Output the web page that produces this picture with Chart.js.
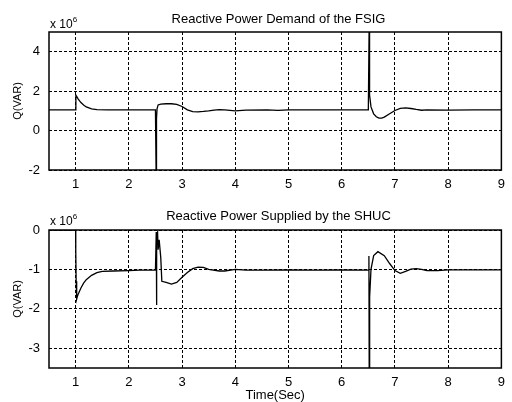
<!DOCTYPE html>
<html>
<head>
<meta charset="utf-8">
<script src="https://cdn.jsdelivr.net/npm/chart.js@4.4.0/dist/chart.umd.min.js"></script>
<style>
html, body { margin: 0; padding: 0; background: #fff; }
#wrap { position: relative; width: 512px; height: 402px; overflow: hidden; }
canvas { position: absolute; left: 0; }
.exp { position: absolute; font: 12px "Liberation Sans", Arial, sans-serif; color: #000; line-height: 12px; }
.exp sup { font-size: 8px; vertical-align: 6px; }
.ttl { position: absolute; left: 49px; width: 459px; text-align: center;
  font: 13px "Liberation Sans", Arial, sans-serif; color: #000; line-height: 13px; }
</style>
</head>
<body>
<div id="wrap">
  <canvas id="fsig" width="512" height="200" style="top:0"></canvas>
  <canvas id="shuc" width="512" height="202" style="top:200px"></canvas>
  <div class="ttl" style="top:12px">Reactive Power Demand of the FSIG</div>
  <div class="ttl" style="top:209px">Reactive Power Supplied by the SHUC</div>
  <div class="exp" style="left:50px;top:14px">x 10<sup>6</sup></div>
  <div class="exp" style="left:50px;top:211px">x 10<sup>6</sup></div>
</div>
<script>
// time axis (s) and reactive power (x 10^6 VAR)
const xTicks = [1, 2, 3, 4, 5, 6, 7, 8, 9];
const fsigTicks = [-2, 0, 2, 4];
const shucTicks = [-3, -2, -1, 0];

const fsigTime = [0.5, 1.0, 1.005, 1.05, 1.1, 1.15, 1.2, 1.3, 1.4, 1.6, 2.0, 2.5, 2.512,
  2.516, 2.52, 2.524, 2.53, 2.55, 2.6, 2.7, 2.8, 2.9, 3.0, 3.1, 3.2, 3.3, 3.4, 3.5, 3.6,
  3.7, 3.8, 4.0, 4.2, 4.6, 4.8, 5.0, 5.5, 6.0, 6.5, 6.51, 6.514, 6.518, 6.522, 6.53, 6.55,
  6.6, 6.65, 6.7, 6.75, 6.8, 6.9, 7.0, 7.1, 7.2, 7.3, 7.4, 7.5, 7.6, 8.0, 8.5, 9.0];
const fsigQ = [1.05, 1.05, 1.8, 1.6, 1.42, 1.3, 1.2, 1.1, 1.06, 1.05, 1.05, 1.05, -2.0,
  -0.9, -1.2, 0.6, 1.1, 1.3, 1.34, 1.36, 1.36, 1.33, 1.22, 1.05, 0.96, 0.95, 0.97, 1.0, 1.04,
  1.06, 1.05, 1.0, 1.04, 1.05, 1.02, 1.05, 1.05, 1.05, 1.05, 1.05, 5.0, 3.0, 5.0, 1.8, 1.2,
  0.85, 0.7, 0.63, 0.63, 0.68, 0.85, 1.02, 1.13, 1.15, 1.12, 1.07, 1.03, 1.05, 1.04, 1.05, 1.05];

const shucTime = [0.5, 1.0, 1.003, 1.01, 1.02, 1.03, 1.05, 1.1, 1.15, 1.2, 1.3, 1.4, 1.5,
  1.7, 2.0, 2.2, 2.5, 2.51, 2.515, 2.52, 2.525, 2.54, 2.55, 2.57, 2.6, 2.62, 2.7, 2.8, 2.9,
  3.0, 3.1, 3.2, 3.3, 3.4, 3.5, 3.7, 3.8, 4.0, 4.2, 4.5, 5.0, 5.5, 6.0, 6.5, 6.51, 6.512,
  6.516, 6.52, 6.524, 6.53, 6.55, 6.6, 6.68, 6.8, 6.9, 7.0, 7.1, 7.2, 7.3, 7.4,
  7.5, 7.6, 7.8, 8.0, 8.5, 9.0];
const shucQ = [0, 0, -0.55, -1.3, -1.75, -1.7, -1.62, -1.47, -1.35, -1.26, -1.15, -1.08, -1.05,
  -1.04, -1.03, -1.02, -1.02, -1.02, -0.05, -1.9, -0.1, -0.05, -0.5, -0.25, -0.7, -1.3, -1.33,
  -1.37, -1.33, -1.2, -1.08, -0.98, -0.94, -0.95, -1.0, -1.04, -1.04, -1.0, -1.02, -1.02,
  -1.01, -1.02, -1.01, -1.02, -1.0, -0.66, -3.5, -2.24, -3.1, -1.7, -1.0, -0.65, -0.55,
  -0.65, -0.85, -1.03, -1.1, -1.05, -0.99, -0.98, -1.0, -1.03, -1.03, -1.01, -1.01, -1.01];

const fontFamily = '"Liberation Sans", Arial, sans-serif';

const framePlugin = {
  id: 'frame',
  afterDraw(chart) {
    const { ctx, chartArea: a } = chart;
    ctx.save();
    ctx.strokeStyle = '#000';
    ctx.lineWidth = 1.5;
    ctx.strokeRect(a.left, a.top, a.right - a.left, a.bottom - a.top);
    ctx.restore();
  }
};

function makeChart(id, times, values, yTicks, yMin, yMax, opts) {
  const points = times.map((t, i) => ({ x: t, y: values[i] }));
  return new Chart(document.getElementById(id), {
    type: 'line',
    data: {
      datasets: [{
        data: points,
        borderColor: '#000',
        borderWidth: 1.3,
        pointRadius: 0,
        tension: 0,
        fill: false
      }]
    },
    plugins: [framePlugin],
    options: {
      responsive: false,
      animation: false,
      layout: { padding: { left: 0, right: 4, top: opts.top, bottom: 0 } },
      plugins: {
        legend: { display: false },
        tooltip: { enabled: false }
      },
      scales: {
        x: {
          type: 'linear',
          min: 0.5,
          max: 9,
          afterBuildTicks: s => { s.ticks = xTicks.map(v => ({ value: v })); },
          afterFit: s => { s.height = opts.xHeight; },
          grid: { color: '#000', lineWidth: 1, drawTicks: false },
          border: { display: false, dash: [3, 2] },
          ticks: { color: '#000', padding: 7, maxRotation: 0,
            font: { family: fontFamily, size: 13 } },
          title: {
            display: !!opts.xTitle,
            text: opts.xTitle || '',
            color: '#000',
            font: { family: fontFamily, size: 13, lineHeight: 1 },
            padding: { top: 0, bottom: 0 }
          }
        },
        y: {
          min: yMin,
          max: yMax,
          afterBuildTicks: s => { s.ticks = yTicks.map(v => ({ value: v })); },
          afterFit: s => { s.width = 49; },
          grid: { color: '#000', lineWidth: 1, drawTicks: false },
          border: { display: false, dash: [3, 2] },
          ticks: { color: '#000', padding: 9,
            font: { family: fontFamily, size: 13 } },
          title: {
            display: true,
            text: 'Q(VAR)',
            color: '#000',
            font: { family: fontFamily, size: 11, lineHeight: 1 },
            padding: { top: 12, bottom: 0 }
          }
        }
      }
    }
  });
}

makeChart('fsig', fsigTime, fsigQ, fsigTicks, -2, 5, { top: 32, xHeight: 30 });
makeChart('shuc', shucTime, shucQ, shucTicks, -3.5, 0, { top: 30, xHeight: 34, xTitle: 'Time(Sec)' });
</script>
</body>
</html>
